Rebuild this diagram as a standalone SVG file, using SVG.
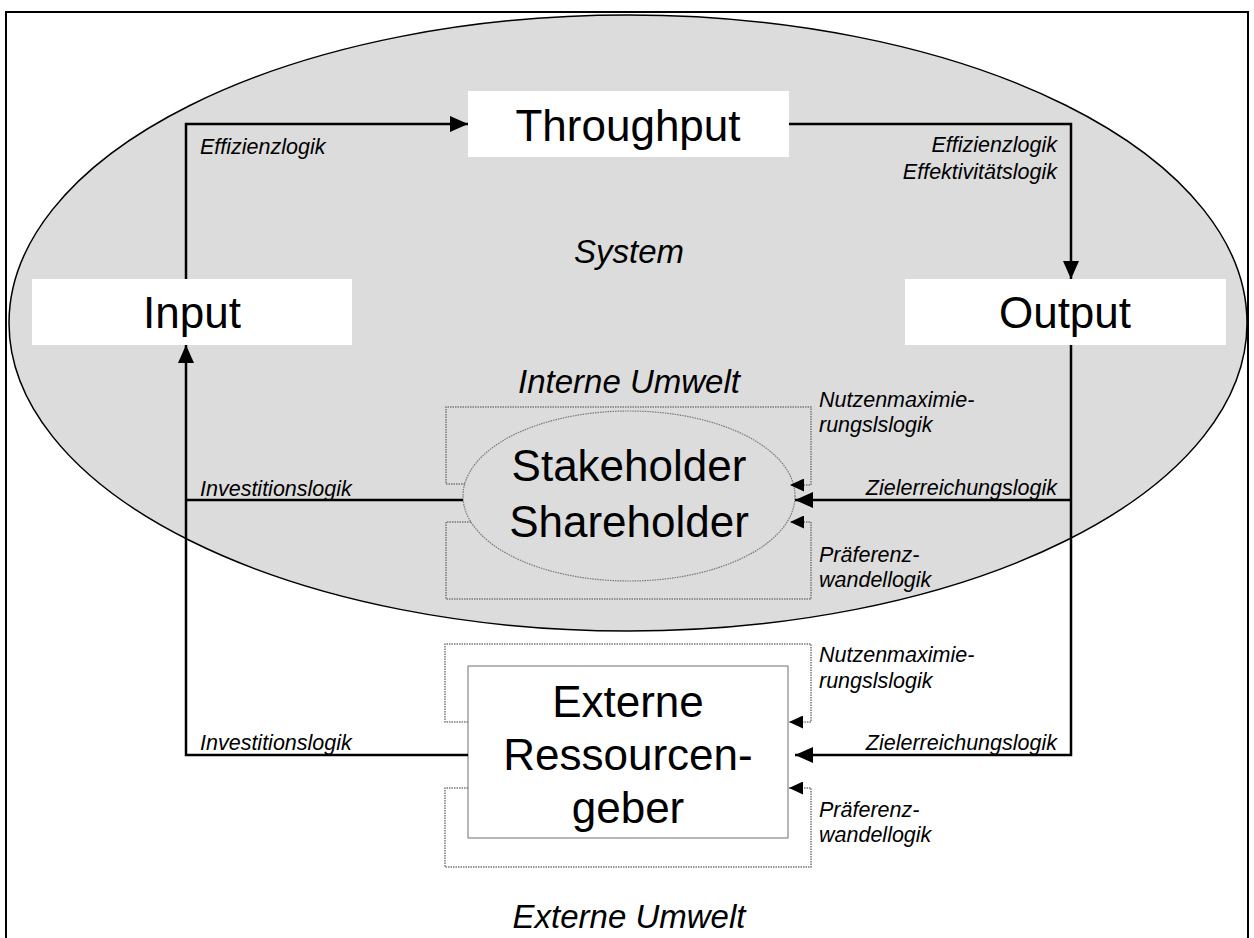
<svg xmlns="http://www.w3.org/2000/svg" width="1254" height="938" viewBox="0 0 1254 938">
<style>
.big{font-family:"Liberation Sans",Arial,sans-serif;font-size:44px;fill:#000;text-anchor:middle}
.mid{font-family:"Liberation Sans",Arial,sans-serif;font-size:33px;font-style:italic;fill:#000;text-anchor:middle}
.lab{font-family:"Liberation Sans",Arial,sans-serif;font-size:21.5px;font-style:italic;fill:#000}
.r{text-anchor:end}
.conn{fill:none;stroke:#000;stroke-width:2.5}
.dot{fill:none;stroke:#777;stroke-width:1.5;stroke-dasharray:1.5 1}
</style>
<defs>
<marker id="big" markerUnits="userSpaceOnUse" markerWidth="18" markerHeight="16" refX="18" refY="8" orient="auto">
<path d="M0,0 L18,8 L0,16 z" fill="#000"/>
</marker>
<marker id="small" markerUnits="userSpaceOnUse" markerWidth="14" markerHeight="13" refX="14" refY="6.5" orient="auto">
<path d="M0,0 L14,6.5 L0,13 z" fill="#000"/>
</marker>
</defs>
<rect x="0" y="0" width="1254" height="938" fill="#fff"/>
<path d="M6,945 V12 H1248 V945" fill="none" stroke="#000" stroke-width="2"/>
<g id="system">
<ellipse cx="628" cy="323" rx="619" ry="308" fill="#dcdcdc" stroke="#000" stroke-width="1.5"/>
<text class="mid" x="629" y="263">System</text>
<text class="mid" x="629" y="393">Interne Umwelt</text>
</g>
<g id="input">
<rect x="32" y="279" width="320" height="66" fill="#fff"/>
<text class="big" x="192" y="328">Input</text>
</g>
<g id="throughput">
<rect x="468" y="91" width="321" height="66" fill="#fff"/>
<text class="big" x="628" y="141">Throughput</text>
</g>
<g id="output">
<rect x="905" y="279" width="321" height="66" fill="#fff"/>
<text class="big" x="1065" y="328">Output</text>
</g>
<g id="stakeholder">
<ellipse cx="629" cy="496" rx="166" ry="85" fill="none" stroke="#777" stroke-width="1.2" stroke-dasharray="1.5 1"/>
<text class="big" x="629" y="481">Stakeholder</text>
<text class="big" x="629" y="537">Shareholder</text>
</g>
<g id="externe">
<rect x="468" y="666" width="320" height="172" fill="#fff" stroke="#888" stroke-width="1.2"/>
<text class="big" x="628" y="717">Externe</text>
<text class="big" x="628" y="770">Ressourcen-</text>
<text class="big" x="628" y="823">geber</text>
<text class="mid" x="629" y="928">Externe Umwelt</text>
</g>
<g id="connectors">
<path class="conn" d="M186,279 V124 H468" marker-end="url(#big)"/>
<path class="conn" d="M789,124 H1071 V279" marker-end="url(#big)"/>
<path class="conn" d="M1071,345 V755 H795" marker-end="url(#big)"/>
<path class="conn" d="M1071,500 H795" marker-end="url(#big)"/>
<path class="conn" d="M468,755 H186 V345" marker-end="url(#big)"/>
<path class="conn" d="M463,500 H186"/>
<path class="dot" d="M465,484 H446 V407 H811 V485 H790" marker-end="url(#small)"/>
<path class="dot" d="M471,522 H446 V599 H811 V522 H790" marker-end="url(#small)"/>
<path class="dot" d="M468,722 H445 V644 H811 V722 H789" marker-end="url(#small)"/>
<path class="dot" d="M468,788 H445 V867 H811 V788 H789" marker-end="url(#small)"/>
</g>
<g id="labels">
<text class="lab" x="200" y="154">Effizienzlogik</text>
<text class="lab r" x="1057" y="152">Effizienzlogik</text>
<text class="lab r" x="1057" y="179">Effektivitätslogik</text>
<text class="lab" x="819" y="407">Nutzenmaximie-</text>
<text class="lab" x="819" y="432">rungslslogik</text>
<text class="lab r" x="1057" y="495">Zielerreichungslogik</text>
<text class="lab" x="200" y="496">Investitionslogik</text>
<text class="lab" x="819" y="562">Präferenz-</text>
<text class="lab" x="819" y="587">wandellogik</text>
<text class="lab" x="819" y="662">Nutzenmaximie-</text>
<text class="lab" x="819" y="688">rungslslogik</text>
<text class="lab r" x="1057" y="750">Zielerreichungslogik</text>
<text class="lab" x="200" y="750">Investitionslogik</text>
<text class="lab" x="819" y="817">Präferenz-</text>
<text class="lab" x="819" y="842">wandellogik</text>
</g>
</svg>
